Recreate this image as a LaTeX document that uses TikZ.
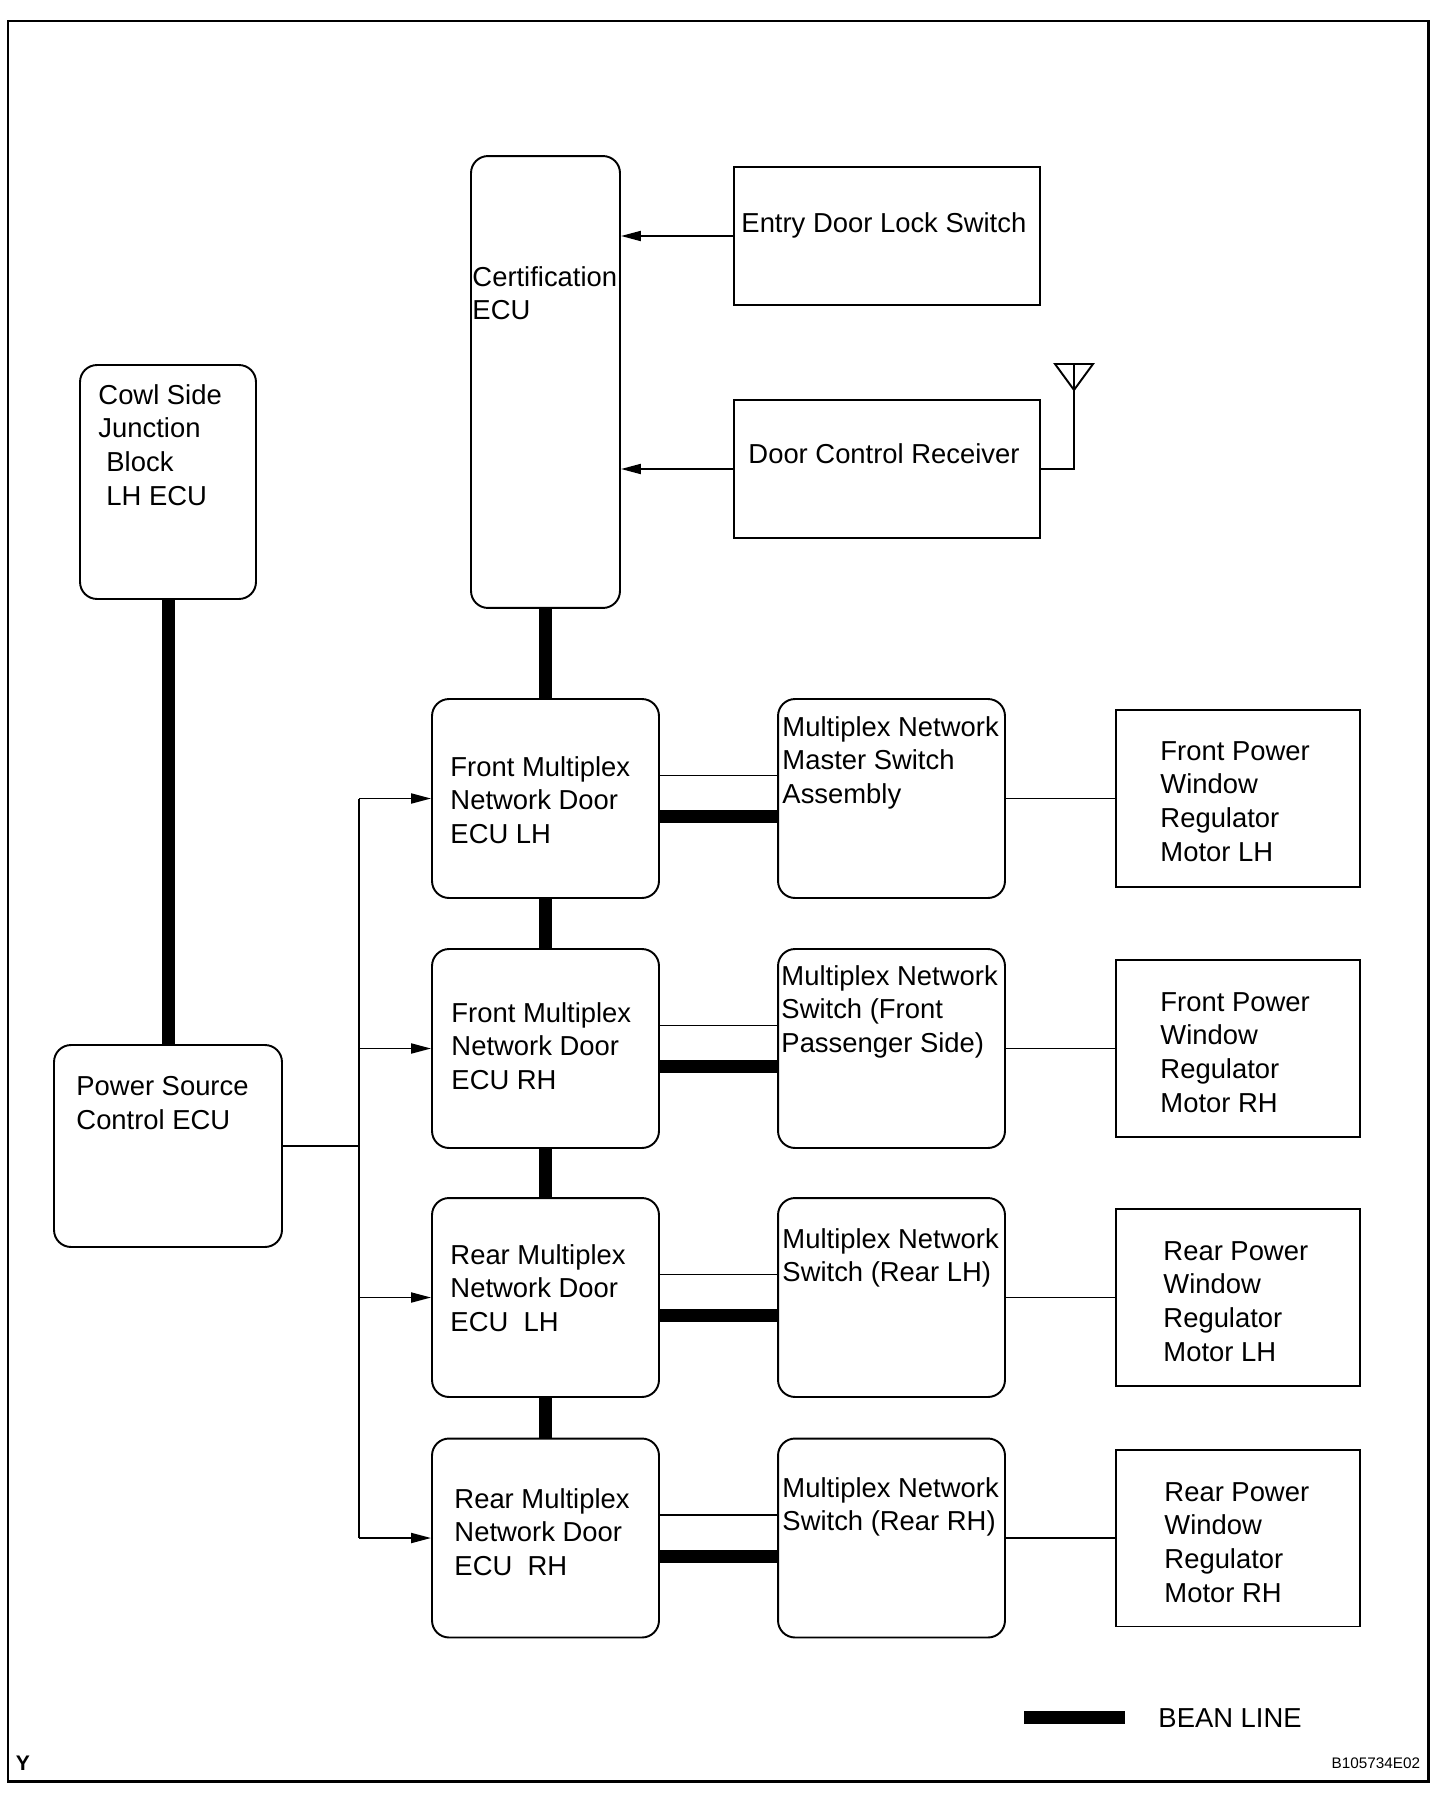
\documentclass[tikz,border=0pt]{standalone}
\usepackage{fontspec}
\setmainfont{Liberation Sans}
\usetikzlibrary{arrows.meta}

\begin{document}
\begin{tikzpicture}[x=0.02cm,y=-0.02cm,>={Triangle[length=0.4cm,width=0.2cm]},line width=1.1pt,
  rbox/.style={draw,rounded corners=0.34cm,inner sep=0,minimum width=4.54cm,minimum height=3.98cm},
  sbox/.style={draw,inner sep=0,minimum width=4.88cm,minimum height=3.54cm},
  txt/.style={anchor=north west,inner sep=0,align=left,xshift=-0.05cm,yshift=0.03cm,font=\fontsize{15.6}{19.1}\selectfont},
  bean/.style={line width=0.26cm}]
  \useasboundingbox (0,0) rectangle (1456,1804);
  \draw[line width=1.7pt] (8,21) rectangle (1428,1781);

  % top part
  \node[rbox,minimum width=2.98cm,minimum height=9.04cm] (cert) at (545.5,382) {};
  \node[draw,inner sep=0,minimum width=6.12cm,minimum height=2.76cm] (entry) at (887,236) {};
  \node[draw,inner sep=0,minimum width=6.12cm,minimum height=2.76cm] (rcv) at (887,469) {};
  \node[rbox,minimum width=3.52cm,minimum height=4.68cm] (cowl) at (168,482) {};
  \node[rbox,minimum width=4.56cm,minimum height=4.04cm] (ps) at (168,1146) {};

  % door ECUs, switches, motors
  \node[rbox] (ecu1) at (545.5,798.5) {};
  \node[rbox] (ecu2) at (545.5,1048.5) {};
  \node[rbox] (ecu3) at (545.5,1297.5) {};
  \node[rbox] (ecu4) at (545.5,1538) {};
  \node[rbox] (sw1) at (891.5,798.5) {};
  \node[rbox] (sw2) at (891.5,1048.5) {};
  \node[rbox] (sw3) at (891.5,1297.5) {};
  \node[rbox] (sw4) at (891.5,1538) {};
  \node[sbox] (mot1) at (1238,798.5) {};
  \node[sbox] (mot2) at (1238,1048.5) {};
  \node[sbox] (mot3) at (1238,1297.5) {};
  \node[sbox] (mot4) at (1238,1538) {};

  % texts
  \node[txt] (certt) at (474,267) {Certification\\ECU};
  \node[txt] (entryt) at (743,213) {Entry Door Lock Switch};
  \node[txt] (rcvt) at (750,444) {Door Control Receiver};
  \node[txt] (cowlt) at (100,385) {Cowl Side\\Junction\\\hspace*{0.16cm}Block\\\hspace*{0.16cm}LH ECU};
  \node[txt] (pst) at (78,1077) {Power Source\\Control ECU};
  \node[txt] (ecu1t) at (452,757) {Front Multiplex\\Network Door\\ECU LH};
  \node[txt] (ecu2t) at (453,1003) {Front Multiplex\\Network Door\\ECU RH};
  \node[txt] (ecu3t) at (452,1245) {Rear Multiplex\\Network Door\\ECU\ \ LH};
  \node[txt] (ecu4t) at (456,1489) {Rear Multiplex\\Network Door\\ECU\ \ RH};
  \node[txt] (sw1t) at (784,717) {Multiplex Network\\Master Switch\\Assembly};
  \node[txt] (sw2t) at (783,966) {Multiplex Network\\Switch (Front\\Passenger Side)};
  \node[txt] (sw3t) at (784,1229) {Multiplex Network\\Switch (Rear LH)};
  \node[txt] (sw4t) at (784,1478) {Multiplex Network\\Switch (Rear RH)};
  \node[txt] (mot1t) at (1162,742) {Front Power\\Window\\Regulator\\Motor LH};
  \node[txt] (mot2t) at (1162,993) {Front Power\\Window\\Regulator\\Motor RH};
  \node[txt] (mot3t) at (1165,1242) {Rear Power\\Window\\Regulator\\Motor LH};
  \node[txt] (mot4t) at (1166,1483) {Rear Power\\Window\\Regulator\\Motor RH};

  % BEAN lines
  \draw[bean] (cowl) -- (ps);
  \draw[bean] (cert) -- (ecu1);
  \draw[bean] (ecu1) -- (ecu2);
  \draw[bean] (ecu2) -- (ecu3);
  \draw[bean] (ecu3) -- (ecu4);
  \draw[bean] ([yshift=-0.36cm]ecu1.east) -- ([yshift=-0.36cm]sw1.west);
  \draw[bean] ([yshift=-0.36cm]ecu2.east) -- ([yshift=-0.36cm]sw2.west);
  \draw[bean] ([yshift=-0.36cm]ecu3.east) -- ([yshift=-0.36cm]sw3.west);
  \draw[bean] ([yshift=-0.36cm]ecu4.east) -- ([yshift=-0.36cm]sw4.west);

  % other wires
  \draw ([yshift=0.46cm]ecu1.east) -- ([yshift=0.46cm]sw1.west);
  \draw ([yshift=0.46cm]ecu2.east) -- ([yshift=0.46cm]sw2.west);
  \draw ([yshift=0.46cm]ecu3.east) -- ([yshift=0.46cm]sw3.west);
  \draw ([yshift=0.46cm]ecu4.east) -- ([yshift=0.46cm]sw4.west);
  \draw (sw1) -- (mot1);
  \draw (sw2) -- (mot2);
  \draw (sw3) -- (mot3);
  \draw (sw4) -- (mot4);
  \draw[->] (entry) -- (entry -| cert.east);
  \draw[->] (rcv) -- (rcv -| cert.east);
  \coordinate (ant) at (1074,364);
  \draw (rcv.east) -| (ant);
  \draw (ant) ++(-19,0) -- ++(38,0) -- (1074,390) -- cycle;
  \coordinate (bus) at (359,1146);
  \draw (ps) -- (bus);
  \draw (bus |- ecu1.west) -- (bus |- ecu4.west);
  \draw[->] (bus |- ecu1.west) -- (ecu1);
  \draw[->] (bus |- ecu2.west) -- (ecu2);
  \draw[->] (bus |- ecu3.west) -- (ecu3);
  \draw[->] (bus |- ecu4.west) -- (ecu4);

  % legend and marks
  \node[txt] (beanlbl) at (1160,1709) {BEAN LINE};
  \draw[bean] ([xshift=-0.66cm]beanlbl.west) -- ++(-101,0);
  \node[anchor=north west,inner sep=0,font=\bfseries\fontsize{12}{14}\selectfont] (ylbl) at (15,1755) {Y};
  \node[anchor=north east,inner sep=0,font=\fontsize{8.7}{10}\selectfont] (code) at (1421,1757) {B105734E02};
\end{tikzpicture}
\end{document}
